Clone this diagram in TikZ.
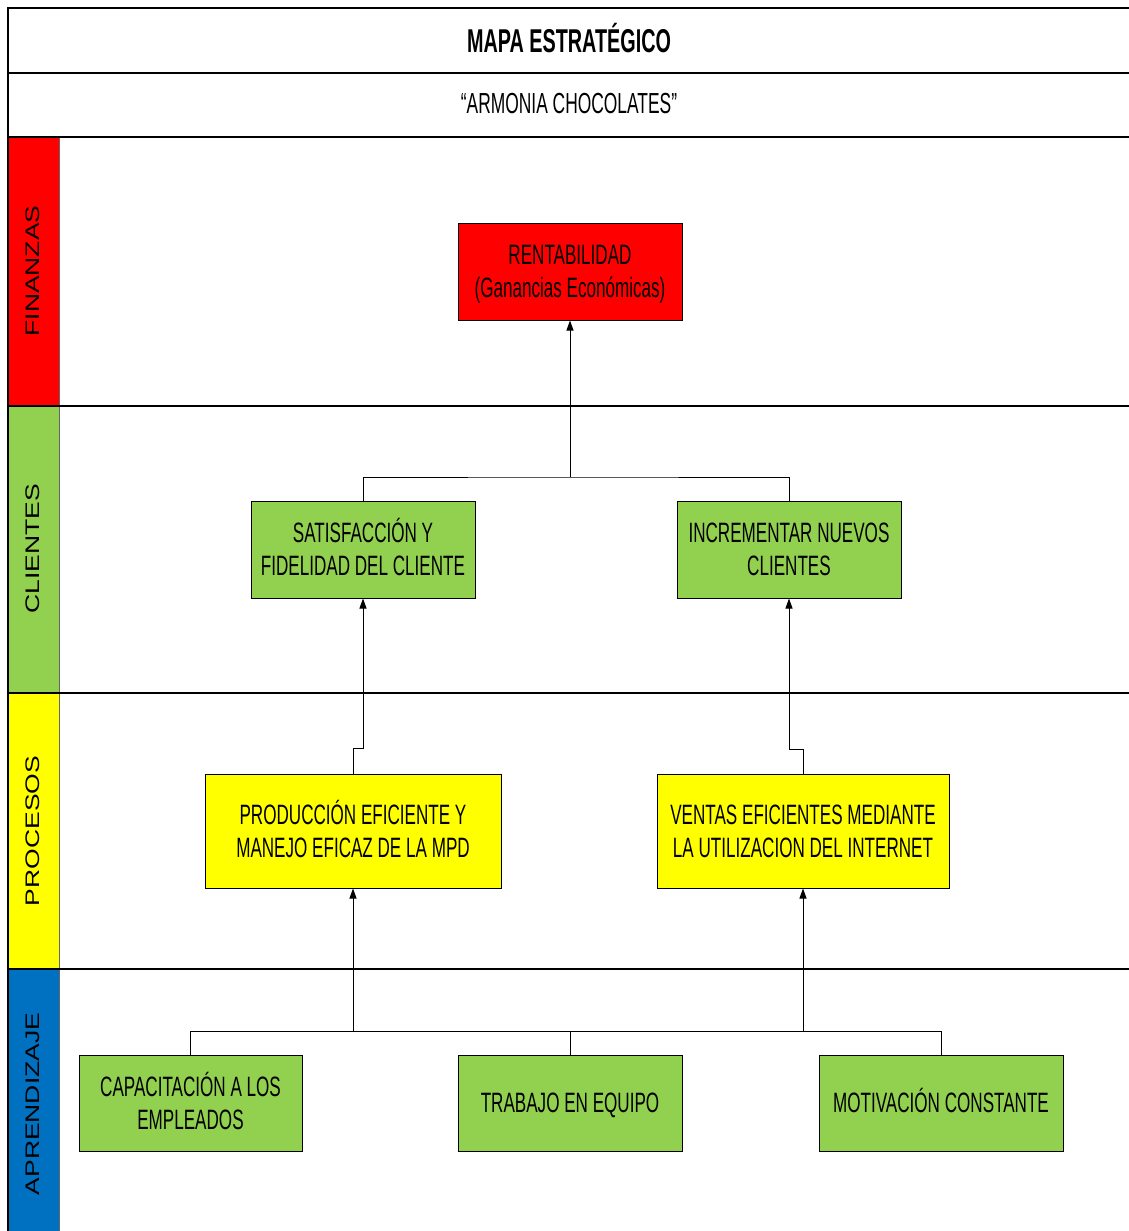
\documentclass[tikz,border=0pt]{standalone}
\usepackage{fontspec}
\setmainfont{Liberation Sans}
\newfontfamily\boxfont[FakeStretch=0.61]{Liberation Sans}
\newfontfamily\headfont[FakeStretch=0.6]{Liberation Sans}
\usetikzlibrary{arrows.meta}
\definecolor{finred}{HTML}{FF0000}
\definecolor{cligreen}{HTML}{92D050}
\definecolor{proyellow}{HTML}{FFFF00}
\definecolor{aprblue}{HTML}{0070C0}
\tikzset{
  objbox/.style={draw=black, line width=1pt, align=center, inner sep=2pt,
    font=\boxfont\fontsize{28}{33}\selectfont, text=black},
  link/.style={draw=black, line width=1pt},
  arr/.style={link, -{Triangle[length=10pt,width=7pt]}},
  sep/.style={draw=black, line width=1.4pt},
  strip/.style={draw=black!60, line width=1pt},
  bandlabel/.style={inner sep=0pt, text=black}
}
% struts giving every box the same text block height
\newcommand{\boxtopstrut}{\rule{0pt}{25pt}}
\newcommand{\boxbotstrut}{\rule[-6pt]{0pt}{6pt}}
\newcommand{\bandtext}[1]{\rotatebox{90}{\scalebox{1}[0.74]{\fontsize{26.5}{30}\selectfont #1}}}
\begin{document}
\begin{tikzpicture}[x=1pt,y=-1pt]
\useasboundingbox (0,0) rectangle (1129,1231);
\fill[white] (0,0) rectangle (1129,1231);

% side strips of the four perspectives
\filldraw[strip, fill=finred] (8,137) rectangle (59,406);
\filldraw[strip, fill=cligreen] (8,406) rectangle (59,693);
\filldraw[strip, fill=proyellow] (8,693) rectangle (59,969);
\filldraw[strip, fill=aprblue] (8,969) rectangle (59,1231);

% frame and row separators
\draw[sep] (1129,8) -- (8,8) -- (8,1231);
\foreach \yy in {73,137,406,693,969} \draw[sep] (8,\yy) -- (1129,\yy);

% headings
\node[inner sep=0pt] (title) at (569,38) {\headfont\bfseries\fontsize{33}{36}\selectfont MAPA ESTRATÉGICO};
\node[inner sep=0pt] (subtitle) at (569,104) {\headfont\fontsize{29}{32}\selectfont “ARMONIA CHOCOLATES”};

% perspective labels
\node[bandlabel] (lfin) at (33,271) {\bandtext{FINANZAS}};
\node[bandlabel] (lcli) at (33,549) {\bandtext{CLIENTES}};
\node[bandlabel] (lpro) at (33,831) {\bandtext{PROCESOS}};
\node[bandlabel] (lapr) at (33,1104) {\bandtext{APRENDIZAJE}};

% objectives
\node[objbox, fill=finred, minimum width=224, minimum height=97] (rent) at (570,271.5)
  {\boxtopstrut RENTABILIDAD\\(Ganancias Económicas)\boxbotstrut};
\node[objbox, fill=cligreen, minimum width=224, minimum height=97] (sat) at (363,549.5)
  {\boxtopstrut SATISFACCIÓN Y\\FIDELIDAD DEL CLIENTE\boxbotstrut};
\node[objbox, fill=cligreen, minimum width=224, minimum height=97] (inc) at (789,549.5)
  {\boxtopstrut INCREMENTAR NUEVOS\\CLIENTES\boxbotstrut};
\node[objbox, fill=proyellow, minimum width=296, minimum height=114] (prod) at (353,831)
  {\boxtopstrut PRODUCCIÓN EFICIENTE Y\\MANEJO EFICAZ DE LA MPD\boxbotstrut};
\node[objbox, fill=proyellow, minimum width=292, minimum height=114] (vent) at (803,831)
  {\boxtopstrut VENTAS EFICIENTES MEDIANTE\\LA UTILIZACION DEL INTERNET\boxbotstrut};
\node[objbox, fill=cligreen, minimum width=223, minimum height=96] (cap) at (190.5,1103)
  {\boxtopstrut CAPACITACIÓN A LOS\\EMPLEADOS\boxbotstrut};
\node[objbox, fill=cligreen, minimum width=224, minimum height=96] (trab) at (570,1103)
  {\boxtopstrut TRABAJO EN EQUIPO\boxbotstrut};
\node[objbox, fill=cligreen, minimum width=244, minimum height=96] (mot) at (941,1103)
  {\boxtopstrut MOTIVACIÓN CONSTANTE\boxbotstrut};

% junction points
\coordinate (busC) at (570,477);
\coordinate (busL) at (353,1031);
\coordinate (busR) at (803,1031);

% clients -> finance
\draw[link] (sat.north) |- (busC) -| (inc.north);
\draw[arr] (busC) -- (rent.south);

% processes -> clients
\draw[arr] (prod.north) -- ++(0,-25) -| (sat.south);
\draw[arr] (vent.north) -- ++(0,-24) -| (inc.south);

% learning -> processes
\draw[link] (cap.north) |- (busL) -- (busR) -| (mot.north);
\draw[link] (trab.north) -- (trab.north |- busL);
\draw[arr] (busL) -- (prod.south);
\draw[arr] (busR) -- (vent.south);
\end{tikzpicture}
\end{document}
